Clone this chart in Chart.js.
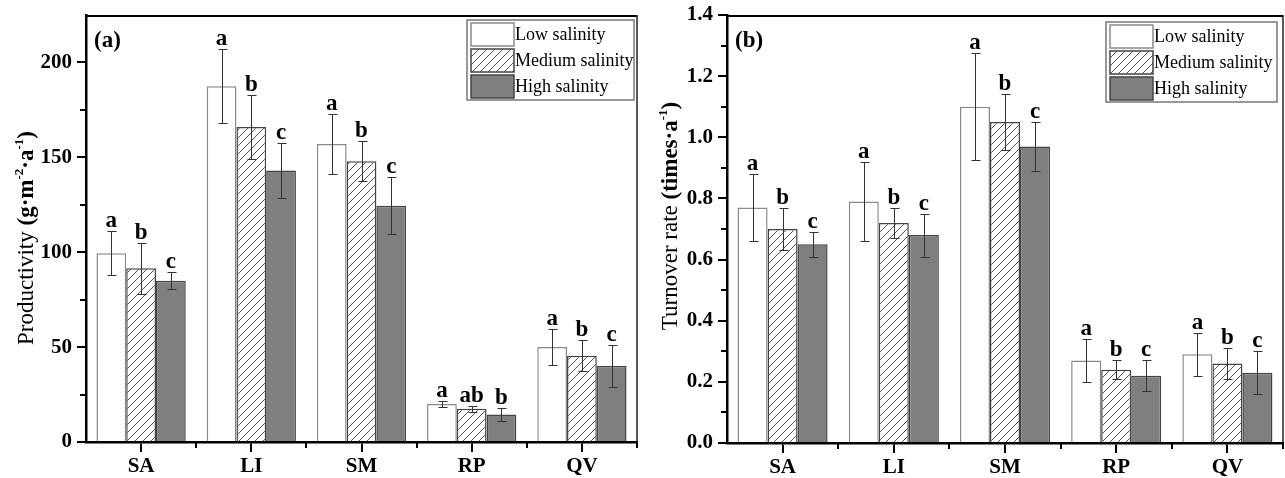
<!DOCTYPE html>
<html>
<head>
<meta charset="utf-8">
<script src="https://cdn.jsdelivr.net/npm/chart.js@4.4.1/dist/chart.umd.min.js"></script>
<style>
  body { margin: 0; background: #fff; }
  .panel { position: absolute; top: 0; height: 478px; }
</style>
</head>
<body>
<div class="panel" style="left:0;width:640px"><canvas id="chartA" width="640" height="478"></canvas></div>
<div class="panel" style="left:640px;width:645px"><canvas id="chartB" width="645" height="478"></canvas></div>
<script>
// categories and series
const sites = ["SA", "LI", "SM", "RP", "QV"];
const seriesNames = ["Low salinity", "Medium salinity", "High salinity"];

// (a) productivity, g·m-2·a-1
const prodLow = [99.5, 187.5, 157, 20, 50];
const prodLowErr = [11.5, 19.5, 16, 1.8, 9.5];
const prodMed = [91.5, 166, 148, 17.5, 45.5];
const prodMedErr = [13.5, 17, 10.5, 1.5, 8];
const prodHigh = [85, 143, 124.5, 14.5, 40];
const prodHighErr = [4.5, 14.5, 15, 3.5, 11];
const prodLowLetters = ["a", "a", "a", "a", "a"];
const prodMedLetters = ["b", "b", "b", "ab", "b"];
const prodHighLetters = ["c", "c", "c", "b", "c"];

// (b) turnover rate, times·a-1
const turnLow = [0.77, 0.79, 1.10, 0.27, 0.29];
const turnLowErr = [0.11, 0.13, 0.175, 0.07, 0.07];
const turnMed = [0.70, 0.72, 1.05, 0.24, 0.26];
const turnMedErr = [0.07, 0.05, 0.09, 0.03, 0.05];
const turnHigh = [0.65, 0.68, 0.97, 0.22, 0.23];
const turnHighErr = [0.04, 0.07, 0.08, 0.05, 0.07];
const turnLowLetters = ["a", "a", "a", "a", "a"];
const turnMedLetters = ["b", "b", "b", "b", "b"];
const turnHighLetters = ["c", "c", "c", "c", "c"];

const serif = '"Liberation Serif", "Times New Roman", serif';
Chart.defaults.color = "#000";
Chart.defaults.font.family = serif;

// diagonal hatch for the medium salinity bars
function makeHatch() {
  const c = document.createElement("canvas");
  c.width = 8;
  c.height = 8;
  const g = c.getContext("2d");
  g.fillStyle = "#fff";
  g.fillRect(0, 0, 8, 8);
  g.strokeStyle = "#555";
  g.lineWidth = 1;
  g.beginPath();
  g.moveTo(0, 8); g.lineTo(8, 0);
  g.moveTo(-2, 2); g.lineTo(2, -2);
  g.moveTo(6, 10); g.lineTo(10, 6);
  g.stroke();
  return g.createPattern(c, "repeat");
}
const hatch = makeHatch();
const fills = ["#ffffff", hatch, "#7f7f7f"];
const borders = ["#8a8a8a", "#444", "#444"];

// error bars, letters, minor ticks, frame, legend, titles
const decorPlugin = {
  id: "decor",
  afterDatasetsDraw(chart) {
    const ctx = chart.ctx;
    const y = chart.scales.y;
    ctx.save();
    chart.data.datasets.forEach((ds, i) => {
      const meta = chart.getDatasetMeta(i);
      meta.data.forEach((bar, j) => {
        const v = ds.data[j];
        const e = ds.errors[j];
        const yTop = Math.round(y.getPixelForValue(v + e)) + 0.5;
        const yBot = Math.round(y.getPixelForValue(v - e)) + 0.5;
        const x = Math.round(bar.x) + 0.5;
        ctx.strokeStyle = "#333";
        ctx.lineWidth = 1;
        ctx.beginPath();
        ctx.moveTo(x, yTop); ctx.lineTo(x, yBot);
        ctx.moveTo(x - 4, yTop); ctx.lineTo(x + 5, yTop);
        ctx.moveTo(x - 4, yBot); ctx.lineTo(x + 5, yBot);
        ctx.stroke();
        ctx.fillStyle = "#000";
        ctx.font = "bold 23px " + serif;
        ctx.textAlign = "center";
        ctx.textBaseline = "alphabetic";
        ctx.fillText(ds.letters[j], bar.x, yTop - 5);
      });
    });
    ctx.restore();
  },
  afterDraw(chart, args, opts) {
    const ctx = chart.ctx;
    const a = chart.chartArea;
    const x = chart.scales.x;
    const y = chart.scales.y;
    ctx.save();
    ctx.strokeStyle = "#000";

    // frame top and right
    ctx.lineWidth = 2;
    ctx.beginPath();
    ctx.moveTo(a.left, a.top + 1); ctx.lineTo(a.right, a.top + 1);
    ctx.stroke();
    ctx.lineWidth = 1.5;
    ctx.strokeStyle = "#222";
    ctx.beginPath();
    ctx.moveTo(a.right, a.top); ctx.lineTo(a.right, a.bottom);
    ctx.stroke();

    // minor ticks
    ctx.strokeStyle = "#000";
    ctx.lineWidth = 2;
    ctx.beginPath();
    for (let v = opts.minorStep; v < y.max; v += 2 * opts.minorStep) {
      const py = Math.round(y.getPixelForValue(v));
      ctx.moveTo(a.left - 6, py); ctx.lineTo(a.left, py);
    }
    for (let i = 0; i < sites.length; i++) {
      const px = i < sites.length - 1
        ? (x.getPixelForValue(i) + x.getPixelForValue(i + 1)) / 2
        : a.right;
      ctx.moveTo(Math.round(px), a.bottom); ctx.lineTo(Math.round(px), a.bottom + 6);
    }
    ctx.stroke();

    // panel label
    ctx.fillStyle = "#000";
    ctx.font = "bold 23px " + serif;
    ctx.textAlign = "left";
    ctx.textBaseline = "alphabetic";
    ctx.fillText(opts.panel, a.left + 8, 47);

    // legend
    const L = opts.legend;
    ctx.strokeStyle = "#777";
    ctx.lineWidth = 1.5;
    ctx.fillStyle = "#fff";
    ctx.fillRect(L.x, L.y, L.w, L.h);
    ctx.strokeRect(L.x, L.y, L.w, L.h);
    seriesNames.forEach((name, i) => {
      const ry = L.y + 3 + i * 26;
      ctx.fillStyle = fills[i];
      ctx.fillRect(L.x + 4, ry, 43, 23);
      ctx.strokeStyle = i === 0 ? "#8a8a8a" : "#444";
      ctx.lineWidth = 1.5;
      ctx.strokeRect(L.x + 4, ry, 43, 23);
      ctx.fillStyle = "#000";
      ctx.font = "18px " + serif;
      ctx.textBaseline = "middle";
      ctx.fillText(name, L.x + 48, ry + 12);
    });

    // y axis title with mixed weights and superscripts
    const T = opts.title;
    ctx.translate(T.x, T.y);
    ctx.rotate(-Math.PI / 2);
    ctx.textBaseline = "alphabetic";
    const fontOf = (p) => (p.b ? "bold " : "") + (p.sup ? "13px " : "23px ") + serif;
    let total = 0;
    T.parts.forEach((p) => { ctx.font = fontOf(p); total += ctx.measureText(p.t).width; });
    let cx = -total / 2;
    T.parts.forEach((p) => {
      ctx.font = fontOf(p);
      ctx.fillText(p.t, cx, p.sup ? -10 : 0);
      cx += ctx.measureText(p.t).width;
    });
    ctx.restore();
  }
};

function makeDatasets(vals, errs, letters) {
  return vals.map((v, i) => ({
    label: seriesNames[i],
    data: v,
    errors: errs[i],
    letters: letters[i],
    backgroundColor: fills[i],
    borderColor: borders[i],
    borderWidth: 1.5,
    barPercentage: 1.0,
    categoryPercentage: 0.81
  }));
}

function makeChart(id, datasets, yOpts, layout, deco) {
  return new Chart(document.getElementById(id), {
    type: "bar",
    data: { labels: sites, datasets: datasets },
    plugins: [decorPlugin],
    options: {
      responsive: false,
      animation: false,
      layout: { padding: layout.padding },
      plugins: { legend: { display: false }, tooltip: { enabled: false }, decor: deco },
      scales: {
        x: {
          grid: { offset: false, drawOnChartArea: false, tickLength: 10, lineWidth: 2, color: "#000" },
          border: { color: "#000", width: 2.5 },
          ticks: { font: { size: 21, weight: "bold" }, padding: 2, color: "#000" },
          afterFit(s) { s.height = layout.xHeight; s.paddingLeft = 0; s.paddingRight = 0; }
        },
        y: Object.assign({
          grid: { drawOnChartArea: false, tickLength: 9, lineWidth: 2, color: "#000" },
          border: { color: "#000", width: 2.5 },
          afterFit(s) { s.width = layout.yWidth; s.paddingTop = 0; s.paddingBottom = 0; }
        }, yOpts)
      }
    }
  });
}

makeChart("chartA",
  makeDatasets([prodLow, prodMed, prodHigh], [prodLowErr, prodMedErr, prodHighErr],
    [prodLowLetters, prodMedLetters, prodHighLetters]),
  {
    min: 0, max: 225,
    ticks: { stepSize: 50, font: { size: 21, weight: "bold" }, padding: 5, color: "#000" },
    afterBuildTicks(s) { s.ticks = s.ticks.filter((t) => t.value % 50 === 0); }
  },
  { padding: { top: 15, right: 3, left: 0, bottom: 0 }, xHeight: 36, yWidth: 86 },
  {
    panel: "(a)",
    minorStep: 25,
    legend: { x: 467, y: 20, w: 167, h: 80 },
    title: {
      x: 33, y: 238,
      parts: [
        { t: "Productivity ", b: false },
        { t: "(g·m", b: true },
        { t: "-2", b: true, sup: true },
        { t: "·a", b: true },
        { t: "-1", b: true, sup: true },
        { t: ")", b: true }
      ]
    }
  }
);

makeChart("chartB",
  makeDatasets([turnLow, turnMed, turnHigh], [turnLowErr, turnMedErr, turnHighErr],
    [turnLowLetters, turnMedLetters, turnHighLetters]),
  {
    min: 0, max: 1.4,
    ticks: { stepSize: 0.2, font: { size: 21, weight: "bold" }, padding: 5, color: "#000",
      callback: (v) => Number(v).toFixed(1) }
  },
  { padding: { top: 15, right: 2, left: 0, bottom: 0 }, xHeight: 35, yWidth: 87 },
  {
    panel: "(b)",
    minorStep: 0.1,
    legend: { x: 466, y: 22, w: 171, h: 80 },
    title: {
      x: 37, y: 216,
      parts: [
        { t: "Turnover rate ", b: false },
        { t: "(times·a", b: true },
        { t: "-1", b: true, sup: true },
        { t: ")", b: true }
      ]
    }
  }
);
</script>
</body>
</html>
